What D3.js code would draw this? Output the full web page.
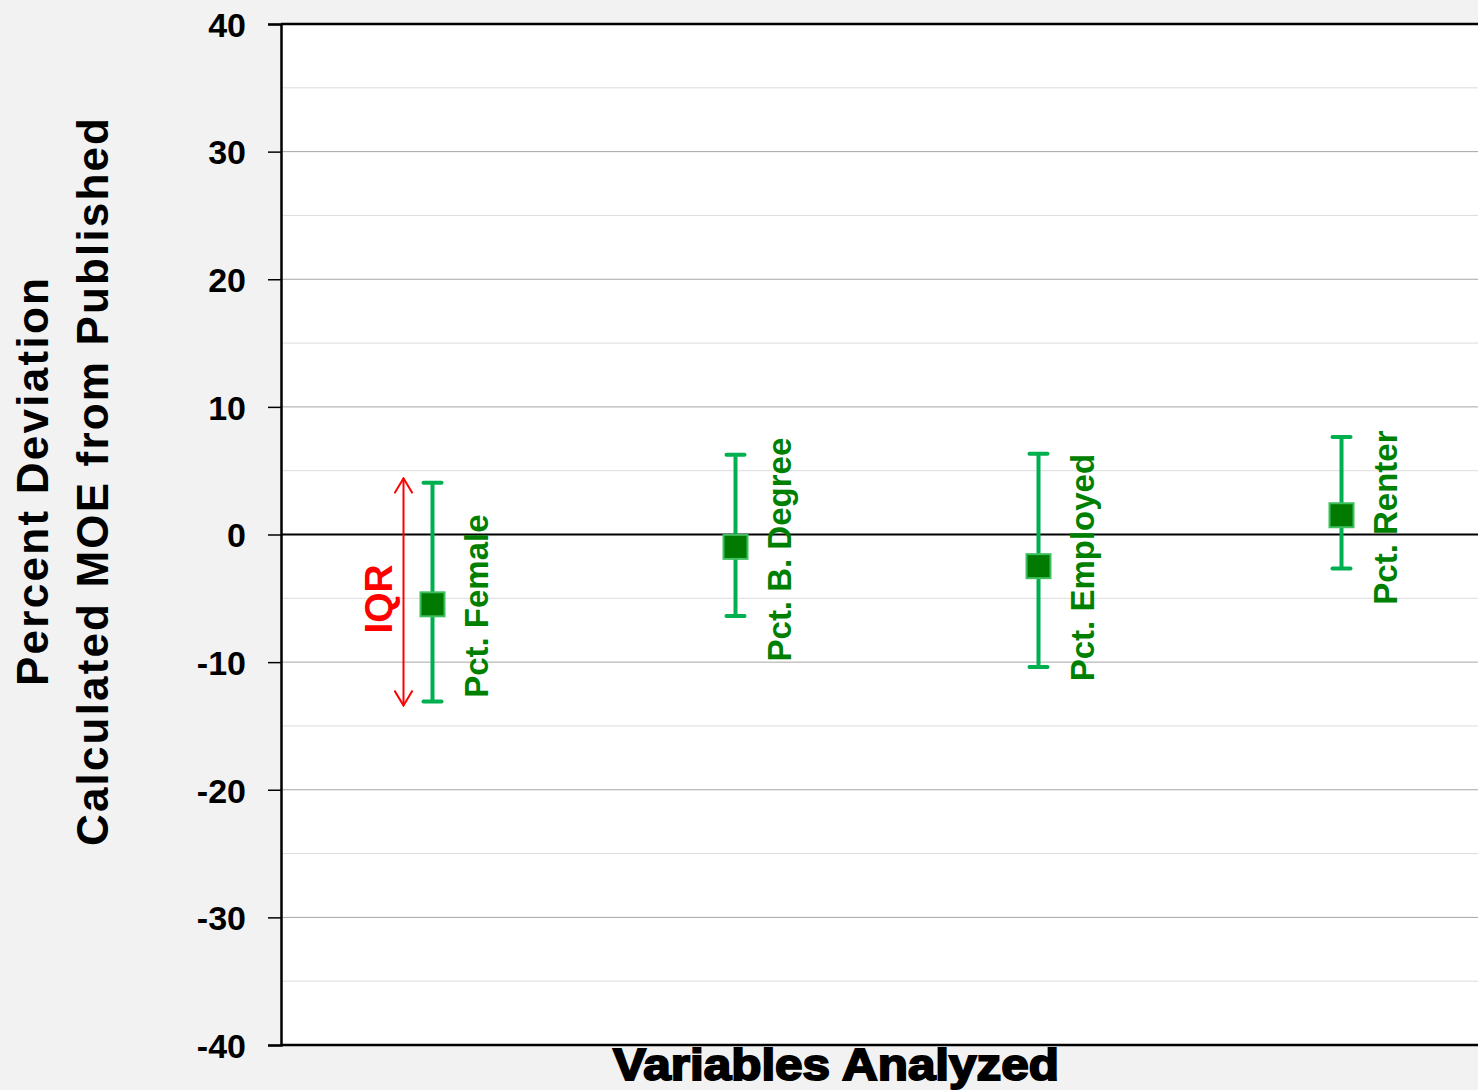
<!DOCTYPE html>
<html>
<head>
<meta charset="utf-8">
<script src="https://cdn.jsdelivr.net/npm/d3@7"></script>
<style>
  body { margin: 0; background: #f2f2f2; }
  svg { display: block; font-family: "Liberation Sans", Arial, sans-serif; }
</style>
</head>
<body>
<div id="holder"></div>
<script>
// data
const categories = ["Pct. Female", "Pct. B. Degree", "Pct. Employed", "Pct. Renter"];
const medians = [-5.47, -0.97, -2.48, 1.51];
const upperQ = [4.06, 6.25, 6.33, 7.63];
const lowerQ = [-13.08, -6.38, -10.39, -2.66];
const labelBase = [-12.8, -9.95, -11.5, -5.5];
const yTicks = [-40, -30, -20, -10, 0, 10, 20, 30, 40];
const minorTicks = [-35, -25, -15, -5, 5, 15, 25, 35];
const iqrSpan = [4.4, -13.4];

const width = 1478;
const height = 1090;
const plotLeft = 281, plotTop = 24, plotBottom = 1045, plotRight = 1493;

const svg = d3.select("#holder")
    .append("svg")
    .attr("width", width)
    .attr("height", height)
    .style("background", "#f2f2f2");

const x = d3.scaleBand().domain(categories).range([plotLeft, plotRight]);
const y = d3.scaleLinear().domain([-40, 40]).range([plotBottom, plotTop]);
const cx = (c) => x(c) + x.bandwidth() / 2;

// plot area
svg.append("rect")
    .attr("x", plotLeft).attr("y", plotTop)
    .attr("width", plotRight - plotLeft).attr("height", plotBottom - plotTop)
    .attr("fill", "white");

svg.append("g").selectAll("line")
    .data(minorTicks).enter().append("line")
    .attr("x1", plotLeft).attr("x2", plotRight)
    .attr("y1", d => y(d)).attr("y2", d => y(d))
    .attr("stroke", "#dcdcdc").attr("stroke-width", 1);

svg.append("g").selectAll("line")
    .data(yTicks.filter(d => d !== 0 && Math.abs(d) !== 40)).enter().append("line")
    .attr("x1", plotLeft).attr("x2", plotRight)
    .attr("y1", d => y(d)).attr("y2", d => y(d))
    .attr("stroke", "#a6a6a6").attr("stroke-width", 1);

// zero line
svg.append("line")
    .attr("x1", plotLeft).attr("x2", plotRight)
    .attr("y1", y(0)).attr("y2", y(0))
    .attr("stroke", "black").attr("stroke-width", 2);

// y axis
const yAxis = d3.axisLeft(y).tickValues(yTicks).tickSize(13).tickPadding(22)
    .tickFormat(d => String(d));
const gy = svg.append("g")
    .attr("transform", `translate(${plotLeft},0)`)
    .call(yAxis);
gy.select(".domain").attr("stroke-width", 2.5);
gy.selectAll(".tick line").attr("stroke-width", 1.5);
gy.selectAll(".tick text")
    .attr("font-size", 34)
    .attr("font-weight", "bold")
    .attr("font-family", "Liberation Sans, Arial, sans-serif")
    .attr("fill", "black")
    .attr("dy", "0.36em");

// top and bottom frame lines
svg.append("line")
    .attr("x1", plotLeft).attr("x2", plotRight)
    .attr("y1", plotTop).attr("y2", plotTop)
    .attr("stroke", "black").attr("stroke-width", 2.5);
svg.append("line")
    .attr("x1", plotLeft).attr("x2", plotRight)
    .attr("y1", plotBottom).attr("y2", plotBottom)
    .attr("stroke", "black").attr("stroke-width", 2.5);

// error bars
const bars = svg.append("g");
bars.selectAll("line.stem")
    .data(categories).enter().append("line")
    .attr("class", "stem")
    .attr("x1", d => cx(d)).attr("x2", d => cx(d))
    .attr("y1", (d, i) => y(upperQ[i])).attr("y2", (d, i) => y(lowerQ[i]))
    .attr("stroke", "#00b050").attr("stroke-width", 4);

[upperQ, lowerQ].forEach(vals => {
    bars.append("g").selectAll("line")
        .data(categories).enter().append("line")
        .attr("x1", d => cx(d) - 9).attr("x2", d => cx(d) + 9)
        .attr("y1", (d, i) => y(vals[i])).attr("y2", (d, i) => y(vals[i]))
        .attr("stroke", "#00b050").attr("stroke-width", 4)
        .attr("stroke-linecap", "round");
});

bars.selectAll("rect")
    .data(categories).enter().append("rect")
    .attr("x", d => cx(d) - 12).attr("y", (d, i) => y(medians[i]) - 12)
    .attr("width", 24).attr("height", 24)
    .attr("fill", "#007a00")
    .attr("stroke", "#3fbf5f").attr("stroke-width", 2);

// category labels
svg.append("g").selectAll("text")
    .data(categories).enter().append("text")
    .attr("transform", (d, i) => `translate(${cx(d) + 55},${y(labelBase[i])}) rotate(-90)`)
    .attr("font-size", 33)
    .attr("font-weight", "bold")
    .attr("fill", "#008000")
    .text(d => d);

// IQR annotation
const ax = cx(categories[0]) - 29;
const defs = svg.append("defs");
defs.append("marker")
    .attr("id", "arr")
    .attr("viewBox", "0 0 20 20")
    .attr("refX", 19).attr("refY", 10)
    .attr("markerWidth", 20).attr("markerHeight", 20)
    .attr("markerUnits", "userSpaceOnUse")
    .attr("orient", "auto-start-reverse")
    .append("path")
    .attr("d", "M4,1 L19,10 L4,19")
    .attr("fill", "none").attr("stroke", "red").attr("stroke-width", 2);

svg.append("line")
    .attr("x1", ax).attr("x2", ax)
    .attr("y1", y(iqrSpan[0])).attr("y2", y(iqrSpan[1]))
    .attr("stroke", "red").attr("stroke-width", 2)
    .attr("marker-start", "url(#arr)")
    .attr("marker-end", "url(#arr)");

svg.append("text")
    .attr("transform", `translate(${ax - 12},${y((iqrSpan[0] + iqrSpan[1]) / 2 - 0.55)}) rotate(-90)`)
    .attr("text-anchor", "middle")
    .attr("font-size", 39)
    .attr("font-weight", "bold")
    .attr("fill", "red")
    .text("IQR");

// axis titles
const titleY = 482;
svg.append("text")
    .attr("transform", `translate(48,${titleY}) rotate(-90)`)
    .attr("text-anchor", "middle")
    .attr("font-size", 44)
    .attr("font-weight", "bold")
    .attr("textLength", 408)
    .attr("lengthAdjust", "spacing")
    .text("Percent Deviation");
svg.append("text")
    .attr("transform", `translate(108,${titleY}) rotate(-90)`)
    .attr("text-anchor", "middle")
    .attr("font-size", 44)
    .attr("font-weight", "bold")
    .attr("textLength", 728)
    .attr("lengthAdjust", "spacing")
    .text("Calculated MOE from Published");

svg.append("text")
    .attr("x", 836).attr("y", 1080)
    .attr("text-anchor", "middle")
    .attr("font-size", 45)
    .attr("font-weight", "bold")
    .attr("stroke", "black").attr("stroke-width", 2)
    .attr("textLength", 446)
    .attr("lengthAdjust", "spacingAndGlyphs")
    .text("Variables Analyzed");
</script>
</body>
</html>
